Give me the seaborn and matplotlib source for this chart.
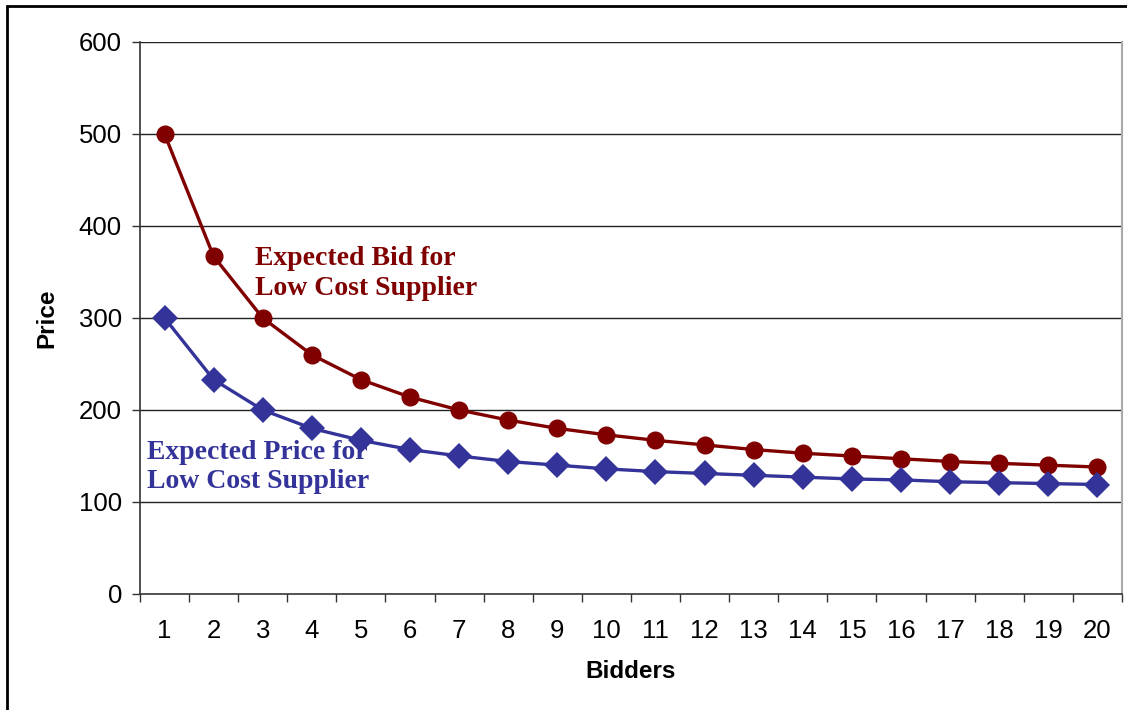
import matplotlib
matplotlib.use("Agg")
import matplotlib.pyplot as plt
import pandas as pd
import seaborn as sns
from matplotlib.patches import Rectangle
from matplotlib.ticker import FixedLocator, NullFormatter

bidders = list(range(1, 21))
expected_bid = [500, 367, 300, 260, 233, 214, 200, 189, 180, 173,
                167, 162, 157, 153, 150, 147, 144, 142, 140, 138]
expected_price = [300, 233, 200, 180, 167, 157, 150, 144, 140, 136,
                  133, 131, 129, 127, 125, 124, 122, 121, 120, 119]
y_ticks = [0, 100, 200, 300, 400, 500, 600]

bid_color = "#800000"
price_color = "#333399"

df = pd.DataFrame({"bidders": bidders, "bid": expected_bid, "price": expected_price})

sns.set_theme(style="white")
plt.rcParams["font.family"] = ["Liberation Sans", "DejaVu Sans"]

fig = plt.figure(figsize=(11.27, 7.10), dpi=100)
ax = fig.add_axes([0.1242, 0.1634, 0.8713, 0.7775])

for y in y_ticks[1:]:
    ax.axhline(y, color="#222222", linewidth=1.0, zorder=0)

sns.lineplot(data=df, x="bidders", y="bid", ax=ax, color=bid_color,
             marker="o", markersize=13, markeredgewidth=0, linewidth=2.4, zorder=3)
sns.lineplot(data=df, x="bidders", y="price", ax=ax, color=price_color,
             marker="D", markersize=13, markeredgewidth=0, linewidth=2.4, zorder=3)

ax.set_xlim(0.5, 20.5)
ax.set_ylim(0, 600)
ax.set_yticks(y_ticks)
ax.set_xticks(bidders)
ax.set_xticklabels([str(b) for b in bidders])
ax.xaxis.set_minor_locator(FixedLocator([b - 0.5 for b in bidders] + [20.5]))
ax.xaxis.set_minor_formatter(NullFormatter())
ax.tick_params(axis="x", which="major", length=0, pad=18, labelsize=18.5,
               labelcolor="black")
ax.tick_params(axis="x", which="minor", length=6, width=1, color="#333333",
               direction="out", bottom=True)
ax.tick_params(axis="y", which="major", length=6, width=1, color="#333333",
               direction="out", left=True, labelsize=18.5, pad=7,
               labelcolor="black")

for side in ["left", "bottom"]:
    ax.spines[side].set_color("#333333")
    ax.spines[side].set_linewidth(1.2)
ax.spines["top"].set_visible(False)
ax.spines["right"].set_color("#aaaaaa")
ax.spines["right"].set_linewidth(1.5)

ax.set_xlabel("Bidders", fontsize=17.5, fontweight="bold", labelpad=12,
              color="black")
ax.set_ylabel("Price", fontsize=17.5, fontweight="bold", labelpad=15,
              color="black")

ax.text(2.84, 348, "Expected Bid for\nLow Cost Supplier", color=bid_color,
        family=["Liberation Serif", "DejaVu Serif"], fontweight="bold",
        fontsize=20, ha="left", va="center", linespacing=1.25)
ax.text(0.64, 138, "Expected Price for\nLow Cost Supplier", color=price_color,
        family=["Liberation Serif", "DejaVu Serif"], fontweight="bold",
        fontsize=20, ha="left", va="center", linespacing=1.25)

fig.patches.append(Rectangle((7 / 1127, -0.05), 1.2, 1 - 6 / 710 + 0.05,
                             transform=fig.transFigure, fill=False,
                             edgecolor="black", linewidth=2))

fig.savefig("out.png", dpi=100)
